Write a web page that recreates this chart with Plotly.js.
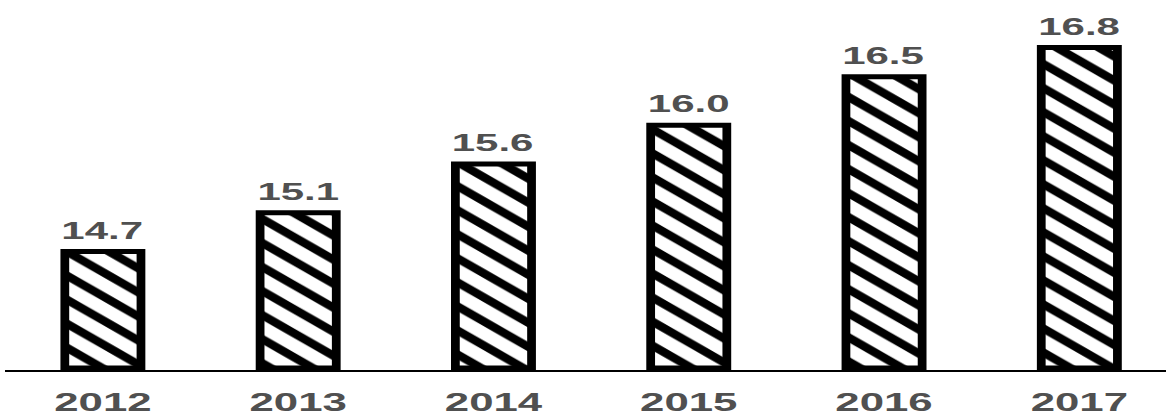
<!DOCTYPE html>
<html>
<head>
<meta charset="utf-8">
<script src="https://cdn.plot.ly/plotly-3.0.1.min.js"></script>
<style>
  html, body { margin: 0; padding: 0; background: #fff; overflow: hidden; }
  #wrap { width: 1166px; height: 416px; overflow: hidden; }
  #chart { width: 666px; height: 416px; transform: scaleX(1.7508); transform-origin: 0 0; }
</style>
</head>
<body>
<div id="wrap"><div id="chart"></div></div>
<script>
const years = ['2012', '2013', '2014', '2015', '2016', '2017'];
const values = [14.7, 15.1, 15.6, 16.0, 16.5, 16.8];
const valueLabels = ['14.7', '15.1', '15.6', '16.0', '16.5', '16.8'];

const baseValue = 13.5;
const textColor = '#505050';
const fontFamily = '"Liberation Sans", Arial, Helvetica, sans-serif';

const trace = {
  type: 'bar',
  x: years,
  y: values.map(v => v - baseValue),
  base: baseValue,
  marker: {
    color: '#000000',
    line: { color: '#000000', width: 5 },
    pattern: { shape: '\\', size: 17, solidity: 0.4, fgcolor: '#000000', bgcolor: '#ffffff', fgopacity: 1 }
  },
  hoverinfo: 'skip'
};

// category positions come from the order of the years array
const annotations = years.map((yr, i) => ({
  x: i,
  y: values[i],
  xref: 'x',
  yref: 'y',
  text: valueLabels[i],
  showarrow: false,
  xanchor: 'center',
  yanchor: 'bottom',
  yshift: 6,
  font: { family: fontFamily, size: 24, color: textColor, weight: 'bold' }
}));

const layout = {
  width: 666,
  height: 416,
  margin: { l: 3, r: 0, t: 0, b: 46, pad: 0 },
  paper_bgcolor: '#ffffff',
  plot_bgcolor: '#ffffff',
  showlegend: false,
  bargap: 0.61,
  annotations: annotations,
  xaxis: {
    type: 'category',
    range: [-0.5, 5.444],
    showline: true,
    linecolor: '#000000',
    linewidth: 1.5,
    ticks: '',
    ticklabelstandoff: 10,
    showgrid: false,
    zeroline: false,
    tickfont: { family: fontFamily, size: 25, color: textColor, weight: 'bold' }
  },
  yaxis: {
    range: [13.48, 17.29],
    visible: false,
    showgrid: false,
    zeroline: false
  }
};

Plotly.newPlot('chart', [trace], layout, { displayModeBar: false, staticPlot: true });
</script>
</body>
</html>
